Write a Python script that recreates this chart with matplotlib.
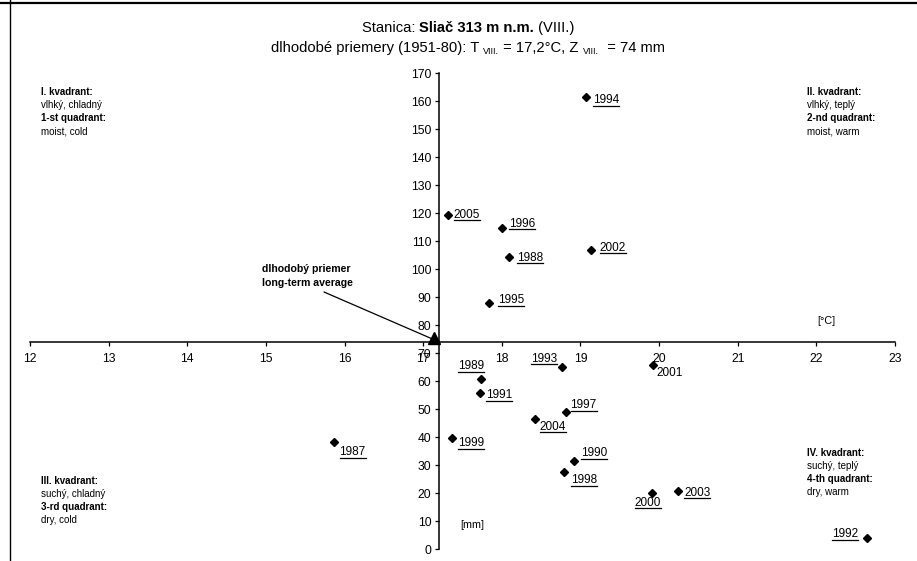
import matplotlib
matplotlib.use("Agg")
import matplotlib.pyplot as plt
from matplotlib.lines import Line2D
from matplotlib.transforms import IdentityTransform, offset_copy

plt.rcParams['font.family'] = ['Liberation Sans', 'DejaVu Sans']

# August values for each year: mean temperature [C] and precipitation [mm]
years = [1987, 1988, 1989, 1990, 1991, 1992, 1993, 1994, 1995, 1996,
         1997, 1998, 1999, 2000, 2001, 2002, 2003, 2004, 2005]
temps = [15.86, 18.09, 17.74, 18.92, 17.72, 22.65, 18.77, 19.07, 17.84, 18.00,
         18.81, 18.79, 17.37, 19.91, 19.92, 19.13, 20.24, 18.42, 17.31]
precip = [38.1, 104.4, 60.6, 31.4, 55.6, 3.8, 65.1, 161.3, 87.7, 114.8,
          48.9, 27.4, 39.6, 20.1, 65.8, 106.8, 20.8, 46.5, 119.4]

# long-term averages 1951-80
avg_temp = 17.2
avg_precip = 74

x_ticks = list(range(12, 24))
y_ticks = list(range(0, 171, 10))

# where each year label sits relative to its point (pixels), and alignment
label_pos = {
    1987: (6, -10, 'left'), 1988: (8, -1, 'left'), 1989: (3, 13, 'right'),
    1990: (7, 8, 'left'), 1991: (6, -2, 'left'), 1992: (-9, 4, 'right'),
    1993: (-5, 8, 'right'), 1994: (7, -3, 'left'), 1995: (9, 3, 'left'),
    1996: (7, 4, 'left'), 1997: (5, 7, 'left'), 1998: (7, -8, 'left'),
    1999: (6, -5, 'left'), 2000: (-4, -10, 'center'), 2001: (4, -8, 'left'),
    2002: (9, 2, 'left'), 2003: (6, -2, 'left'), 2004: (5, -8, 'left'),
    2005: (6, 0, 'left'),
}
not_underlined = [2001]

W, H = 917, 561
fig = plt.figure(figsize=(W / 100, H / 100), dpi=100)
ax = fig.add_axes([30 / W, 12 / H, 865 / W, 476 / H])

ax.plot(temps, precip, 'D', color='black', markersize=4.5, linestyle='none')

# triangle for the long-term average, sitting just above-left of the crossing
tri_tr = offset_copy(ax.transData, fig=fig, x=-5, y=4, units='dots')
ax.plot([avg_temp], [avg_precip], '^', color='black', markersize=8,
        transform=tri_tr, clip_on=False)

ax.set_xlim(12, 23)
ax.set_ylim(0, 170)
ax.set_xticks(x_ticks)
ax.set_yticks(y_ticks)
ax.spines['left'].set_position(('data', avg_temp))
ax.spines['bottom'].set_position(('data', avg_precip))
ax.spines['top'].set_visible(False)
ax.spines['right'].set_visible(False)
for s in ['left', 'bottom']:
    ax.spines[s].set_linewidth(1.1)
ax.tick_params(labelsize=8.7, length=3, width=0.9, direction='out', pad=2.5)
ax.tick_params(axis='x', pad=5)
ax.patch.set_visible(False)

year_texts = []
for yr, t, p in zip(years, temps, precip):
    dx, dy, ha = label_pos[yr]
    txt = ax.annotate(str(yr), xy=(t, p), xytext=(dx, dy), textcoords='offset pixels',
                      ha=ha, va='center', fontsize=8.5)
    if yr not in not_underlined:
        year_texts.append(txt)

# arrow pointing to the average
ax.annotate('', xy=(avg_temp, avg_precip), xycoords='data',
            xytext=(324, H - 292), textcoords='figure pixels',
            arrowprops=dict(arrowstyle='-', color='black', lw=0.9, shrinkA=0, shrinkB=6))

px = IdentityTransform()

def put(x, y, s, **kw):
    """text placed in pixel coords measured from the top left"""
    return fig.text(x, H - y, s, transform=px, **kw)

put(262, 269, 'dlhodobý priemer', fontsize=7.6, fontweight='bold', va='center')
put(262, 283, 'long-term average', fontsize=7.6, fontweight='bold', va='center')

put(826, 321, '[°C]', fontsize=7.8, ha='center', va='center')
put(472, 525, '[mm]', fontsize=7.8, ha='center', va='center')

# quadrant descriptions
quads = [
    (41, 92, ['I. kvadrant:', 'vlhký, chladný', '1-st quadrant:', 'moist, cold']),
    (807, 92, ['II. kvadrant:', 'vlhký, teplý', '2-nd quadrant:', 'moist, warm']),
    (41, 481, ['III. kvadrant:', 'suchý, chladný', '3-rd quadrant:', 'dry, cold']),
    (807, 453, ['IV. kvadrant:', 'suchý, teplý', '4-th quadrant:', 'dry, warm']),
]
for qx, qy, lines in quads:
    for i, line in enumerate(lines):
        put(qx, qy + 13 * i, line, fontsize=7.0, va='center',
            fontweight='bold' if i % 2 == 0 else 'normal')

# title lines with mixed styles
fig.canvas.draw()
renderer = fig.canvas.get_renderer()

def rich_line(cx, y, parts):
    objs = []
    for s, size, weight, dy in parts:
        objs.append(put(0, y - dy, s, fontsize=size, fontweight=weight, va='baseline'))
    widths = [o.get_window_extent(renderer).width for o in objs]
    x = cx - sum(widths) / 2
    for o, w in zip(objs, widths):
        o.set_x(x)
        x += w

rich_line(468, 32, [('Stanica: ', 10.6, 'normal', 0),
                    ('Sliač 313 m n.m.', 10.6, 'bold', 0),
                    (' (VIII.)', 10.6, 'normal', 0)])
rich_line(468, 52, [('dlhodobé priemery (1951-80): T ', 10.6, 'normal', 0),
                    ('VIII.', 6.5, 'normal', -2),
                    (' = 17,2°C, Z ', 10.6, 'normal', 0),
                    ('VIII.', 6.5, 'normal', -2),
                    ('  = 74 mm', 10.6, 'normal', 0)])

# underline the year labels
fig.canvas.draw()
for txt in year_texts:
    bb = txt.get_window_extent(renderer)
    fig.add_artist(Line2D([bb.x0, bb.x1], [bb.y0 + 0.5, bb.y0 + 0.5],
                          transform=px, color='black', lw=0.9))

# outer frame pieces visible in the crop
fig.add_artist(Line2D([0, W], [H - 2.5, H - 2.5], transform=px, color='black', lw=1.6))
fig.add_artist(Line2D([9.5, 9.5], [0, H], transform=px, color='black', lw=1.0))

fig.savefig('out.png', dpi=100)
